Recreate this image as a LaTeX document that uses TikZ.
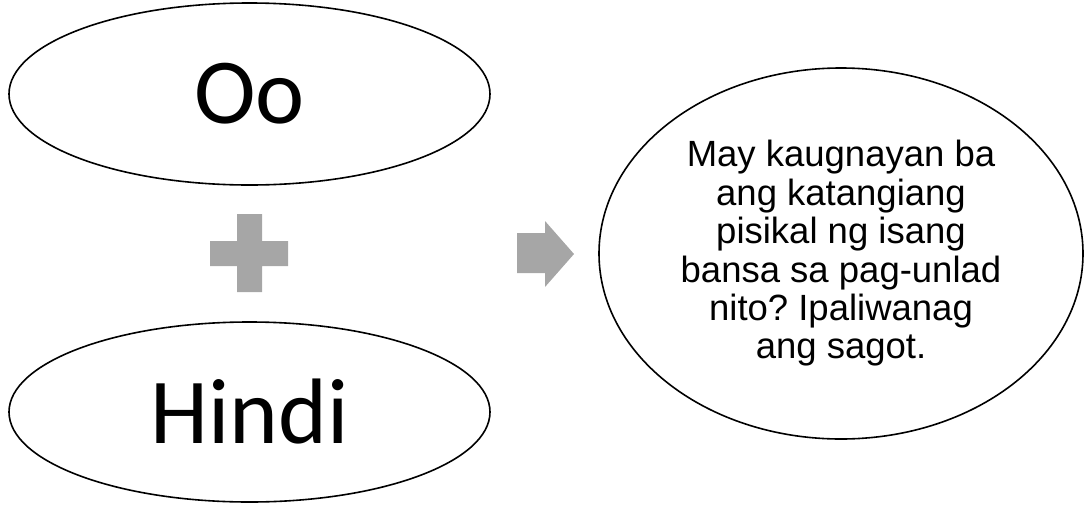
\documentclass[tikz,border=0pt]{standalone}
\usepackage{fontspec}
\setmainfont{Carlito}
\newfontfamily\arialfont{Liberation Sans}
\usetikzlibrary{shapes.geometric}
\definecolor{shapegray}{RGB}{166,166,166}
\frenchspacing
\tikzset{
  oval/.style={draw=black, line width=1.6pt, ellipse, inner sep=0pt},
  bigword/.style={font=\fontsize{93}{100}\selectfont},
  grayshape/.style={fill=shapegray, draw=none}
}
\begin{document}
\begin{tikzpicture}[x=1pt,y=1pt]
\useasboundingbox (0,0) rectangle (1085,-504);
\node[oval, minimum width=481pt, minimum height=182pt, bigword] (oo) at (249.5,-94) {Oo};
\node[oval, minimum width=481pt, minimum height=180pt, bigword] (hindi) at (249.5,-412) {Hindi};
\node[oval, minimum width=484pt, minimum height=371pt, align=center,
      font=\arialfont\fontsize{36.5}{38.4}\selectfont] (q) at (841,-253.5)
  {May kaugnayan ba\\ang katangiang\\pisikal ng isang\\bansa sa pag-unlad\\nito? Ipaliwanag\\ang sagot.};
% plus sign
\fill[grayshape] (237,-214) -- (262,-214) -- (262,-241) -- (288,-241) -- (288,-266) -- (262,-266)
  -- (262,-292) -- (237,-292) -- (237,-266) -- (210,-266) -- (210,-241) -- (237,-241) -- cycle;
% arrow
\fill[grayshape] (517,-233) -- (545,-233) -- (545,-221) -- (574,-254) -- (545,-287) -- (545,-273)
  -- (517,-273) -- cycle;
\end{tikzpicture}
\end{document}
